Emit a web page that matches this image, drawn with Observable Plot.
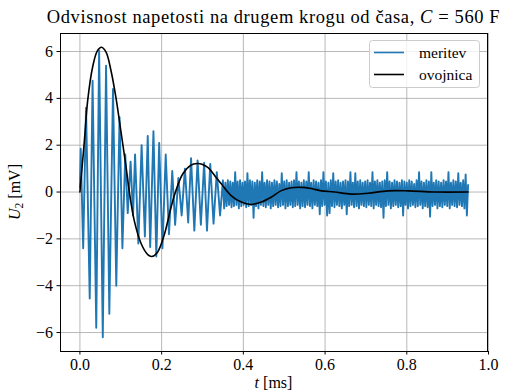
<!DOCTYPE html>
<html><head><meta charset="utf-8">
<script src="https://cdn.jsdelivr.net/npm/d3@7"></script>
<script src="https://cdn.jsdelivr.net/npm/@observablehq/plot@0.6"></script>
<style>
body{margin:0;background:#fff;}
#chart{width:505px;height:391px;}
</style></head><body><div id="chart"></div>
<script>
// measured signal "meritev" (t in ms, U2 in mV) — early, strongly oscillating part
const earlyT = [0, 0.002, 0.008, 0.015, 0.024, 0.031, 0.040, 0.047, 0.056, 0.064, 0.072, 0.081, 0.089, 0.097, 0.104, 0.111, 0.117, 0.124, 0.130, 0.135, 0.143, 0.151, 0.159, 0.166, 0.172, 0.180, 0.187, 0.194, 0.202, 0.210, 0.218, 0.226, 0.233, 0.241, 0.249, 0.257, 0.265, 0.272, 0.280, 0.288, 0.296, 0.304, 0.311, 0.319, 0.327, 0.335, 0.343];
const earlyU = [0.2, 1.85, -2.4, 3.6, -4.55, 4.75, -5.8, 6.05, -6.2, 5.4, -5.2, 4.4, -4.0, 3.2, -2.4, 1.6, -0.9, 1.3, -1.0, 1.6, -2.2, 2.0, -1.9, 2.4, -2.35, 2.6, -2.75, 2.1, -2.4, 1.6, -1.8, 0.9, -1.4, 0.6, -1.0, 1.0, -1.3, 1.45, -1.65, 1.35, -1.4, 1.25, -1.65, 1.2, -1.35, 0.85, -1.0];
// measured signal — later noisy band
const bandT = [
  0.350, 0.353, 0.356, 0.359, 0.362, 0.365, 0.368, 0.371, 0.374, 0.377,
  0.380, 0.383, 0.386, 0.389, 0.392, 0.395, 0.398, 0.401, 0.404, 0.407,
  0.410, 0.413, 0.416, 0.419, 0.422, 0.425, 0.428, 0.431, 0.434, 0.437,
  0.440, 0.443, 0.446, 0.449, 0.452, 0.455, 0.458, 0.461, 0.464, 0.467,
  0.470, 0.473, 0.476, 0.479, 0.482, 0.485, 0.488, 0.491, 0.494, 0.497,
  0.500, 0.503, 0.506, 0.509, 0.512, 0.515, 0.518, 0.521, 0.524, 0.527,
  0.530, 0.533, 0.536, 0.539, 0.542, 0.545, 0.548, 0.551, 0.554, 0.557,
  0.560, 0.563, 0.566, 0.569, 0.572, 0.575, 0.578, 0.581, 0.584, 0.587,
  0.590, 0.593, 0.596, 0.599, 0.602, 0.605, 0.608, 0.611, 0.614, 0.617,
  0.620, 0.623, 0.626, 0.629, 0.632, 0.635, 0.638, 0.641, 0.644, 0.647,
  0.650, 0.653, 0.656, 0.659, 0.662, 0.665, 0.668, 0.671, 0.674, 0.677,
  0.680, 0.683, 0.686, 0.689, 0.692, 0.695, 0.698, 0.701, 0.704, 0.707,
  0.710, 0.713, 0.716, 0.719, 0.722, 0.725, 0.728, 0.731, 0.734, 0.737,
  0.740, 0.743, 0.746, 0.749, 0.752, 0.755, 0.758, 0.761, 0.764, 0.767,
  0.770, 0.773, 0.776, 0.779, 0.782, 0.785, 0.788, 0.791, 0.794, 0.797,
  0.800, 0.803, 0.806, 0.809, 0.812, 0.815, 0.818, 0.821, 0.824, 0.827,
  0.830, 0.833, 0.836, 0.839, 0.842, 0.845, 0.848, 0.851, 0.854, 0.857,
  0.860, 0.863, 0.866, 0.869, 0.872, 0.875, 0.878, 0.881, 0.884, 0.887,
  0.890, 0.893, 0.896, 0.899, 0.902, 0.905, 0.908, 0.911, 0.914, 0.917,
  0.920, 0.923, 0.926, 0.929, 0.932, 0.935, 0.938, 0.941, 0.944, 0.947,
  0.950];
const bandU = [
  0.5, -0.7, 0.4, -0.6, 0.5, -0.55, 0.45, -0.65, 0.4, -0.6,
  0.85, -0.55, 0.45, -0.7, 0.5, -0.6, 0.4, -0.55, 0.45, -0.65,
  0.8, -0.6, 0.5, -0.55, 0.45, -1.1, 0.4, -0.6, 0.5, -0.7,
  0.45, -0.55, 0.85, -0.6, 0.4, -0.65, 0.5, -0.55, 0.45, -0.7,
  0.4, -0.6, 0.5, -0.55, 0.45, -0.65, 0.35, -0.6, 0.8, -0.55,
  0.45, -0.7, 0.5, -0.6, 0.4, -0.55, 0.45, -0.65, 0.5, -0.6,
  0.85, -0.55, 0.45, -0.7, 0.4, -0.6, 0.5, -0.65, 0.45, -0.55,
  0.85, -0.6, 0.4, -0.7, 0.5, -0.55, 0.45, -0.6, 0.4, -0.95,
  0.5, -0.6, 0.85, -0.55, 0.45, -1.0, 0.4, -0.9, 0.5, -0.6,
  0.8, -0.65, 0.45, -0.55, 0.5, -0.6, 0.4, -0.7, 0.45, -0.55,
  0.5, -0.95, 0.45, -0.6, 0.85, -0.55, 0.4, -0.65, 0.8, -0.6,
  0.45, -0.7, 0.5, -0.55, 0.4, -0.6, 0.45, -0.65, 0.5, -0.55,
  0.4, -0.6, 0.85, -0.7, 0.45, -0.55, 0.5, -0.6, 0.4, -0.65,
  0.45, -1.1, 0.5, -0.6, 0.85, -0.55, 0.45, -0.7, 0.4, -0.6,
  0.5, -0.55, 0.45, -0.65, 0.4, -0.6, 0.5, -1.0, 0.45, -0.55,
  0.4, -0.7, 0.5, -0.6, 0.45, -0.55, 0.35, -0.65, 0.5, -0.6,
  0.85, -0.55, 0.45, -0.7, 0.4, -0.6, 0.5, -0.65, 0.45, -1.05,
  0.85, -0.6, 0.4, -0.55, 0.5, -0.7, 0.45, -0.6, 0.4, -0.65,
  0.5, -0.55, 0.45, -0.6, 0.85, -0.7, 0.4, -0.55, 0.5, -0.6,
  0.45, -0.65, 0.8, -0.55, 0.4, -0.6, 0.5, -0.7, 0.75, -1.0,
  0.3];
// envelope "ovojnica"
const envT = [0, 0.011, 0.019, 0.031, 0.043, 0.053, 0.064, 0.076, 0.088, 0.100, 0.113, 0.121, 0.133, 0.150, 0.166, 0.176, 0.190, 0.207, 0.223, 0.235, 0.252, 0.272, 0.287, 0.297, 0.313, 0.330, 0.346, 0.370, 0.395, 0.419, 0.444, 0.468, 0.493, 0.517, 0.542, 0.566, 0.591, 0.623, 0.664, 0.705, 0.754, 0.803, 0.868, 0.950];
const envU = [0, 2.2, 3.9, 5.33, 6.04, 6.18, 5.97, 5.19, 4.05, 2.63, 1.06, 0, -1.22, -2.21, -2.67, -2.75, -2.57, -1.79, -0.65, 0.06, 0.78, 1.15, 1.22, 1.2, 1.05, 0.7, 0.35, -0.15, -0.43, -0.53, -0.43, -0.22, 0.06, 0.18, 0.2, 0.15, 0.05, 0, -0.09, -0.05, 0.05, 0.05, 0, 0];
const xTicks = [0, 0.2, 0.4, 0.6, 0.8, 1.0];
const yTicks = [-6, -4, -2, 0, 2, 4, 6];
const seriesNames = ["meritev", "ovojnica"];

const meas = earlyT.map((t, i) => ({t, u: earlyU[i]})).concat(bandT.map((t, i) => ({t, u: bandU[i]})));
const env = envT.map((t, i) => ({t, u: envU[i]}));
const minus = d => d < 0 ? "\u2212" + (-d) : String(d);
const FONT = "'Liberation Serif', serif";

const W = 505, H = 391, mL = 60, mR = 18, mT = 33, mB = 40;
const plot = Plot.plot({
  width: W, height: H,
  marginLeft: mL, marginRight: mR, marginTop: mT, marginBottom: mB,
  style: {fontFamily: FONT, fontSize: "16px", background: "white", color: "black", overflow: "visible"},
  x: {domain: [-0.0475, 0.9975]},
  y: {domain: [-6.81, 6.77]},
  marks: [
    Plot.gridX(xTicks, {stroke: "#b0b0b0", strokeOpacity: 1, strokeWidth: 0.9}),
    Plot.gridY(yTicks, {stroke: "#b0b0b0", strokeOpacity: 1, strokeWidth: 0.9}),
    Plot.line(meas, {x: "t", y: "u", stroke: "#1f77b4", strokeWidth: 1.9}),
    Plot.line(env, {x: "t", y: "u", stroke: "black", strokeWidth: 1.6, curve: "catmull-rom"}),
    Plot.frame({stroke: "black", strokeWidth: 1}),
    Plot.axisX(xTicks, {tickFormat: d => d.toFixed(1), tickSize: 3.5, tickPadding: 4, label: null, fontSize: 16}),
    Plot.axisY(yTicks, {tickFormat: minus, tickSize: 3.5, tickPadding: 4, label: null, fontSize: 16})
  ]
});
document.getElementById("chart").appendChild(plot);

const svg = d3.select(plot);
const fx = (mL + (W - mR)) / 2;
function txt(sel) { return sel.style("font-family", FONT).attr("fill", "black"); }
// title
const tt = txt(svg.append("text")).attr("x", fx).attr("y", 23).attr("text-anchor", "middle")
  .style("font-size", "18.5px").style("letter-spacing", "0.6px");
tt.append("tspan").text("Odvisnost napetosti na drugem krogu od časa, ");
tt.append("tspan").attr("font-style", "italic").text("C");
tt.append("tspan").text(" = 560 F");
// x label
const xl = txt(svg.append("text")).attr("x", fx).attr("y", 388).attr("text-anchor", "middle")
  .style("font-size", "16px");
xl.append("tspan").attr("font-style", "italic").text("t");
xl.append("tspan").text(" [ms]");
// y label
const yl = txt(svg.append("text")).attr("transform", `translate(20,${(mT + H - mB) / 2}) rotate(-90)`)
  .attr("text-anchor", "middle").style("font-size", "16px");
yl.append("tspan").attr("font-style", "italic").text("U");
yl.append("tspan").attr("font-size", "11.5px").attr("dy", 3).text("2");
yl.append("tspan").attr("dy", -3).text(" [mV]");
// legend
const lg = svg.append("g");
lg.append("rect").attr("x", 369.5).attr("y", 40.5).attr("width", 110).attr("height", 47).attr("rx", 3)
  .attr("fill", "white").attr("fill-opacity", 0.8).attr("stroke", "#cccccc");
const colors = ["#1f77b4", "black"];
seriesNames.forEach((n, i) => {
  const y = 52.5 + i * 22;
  lg.append("line").attr("x1", 374).attr("x2", 404).attr("y1", y).attr("y2", y)
    .attr("stroke", colors[i]).attr("stroke-width", 1.6);
  txt(lg.append("text")).attr("x", 419).attr("y", y + 5).attr("text-anchor", "start")
    .style("font-size", "15.5px").text(n);
});
</script></body></html>
